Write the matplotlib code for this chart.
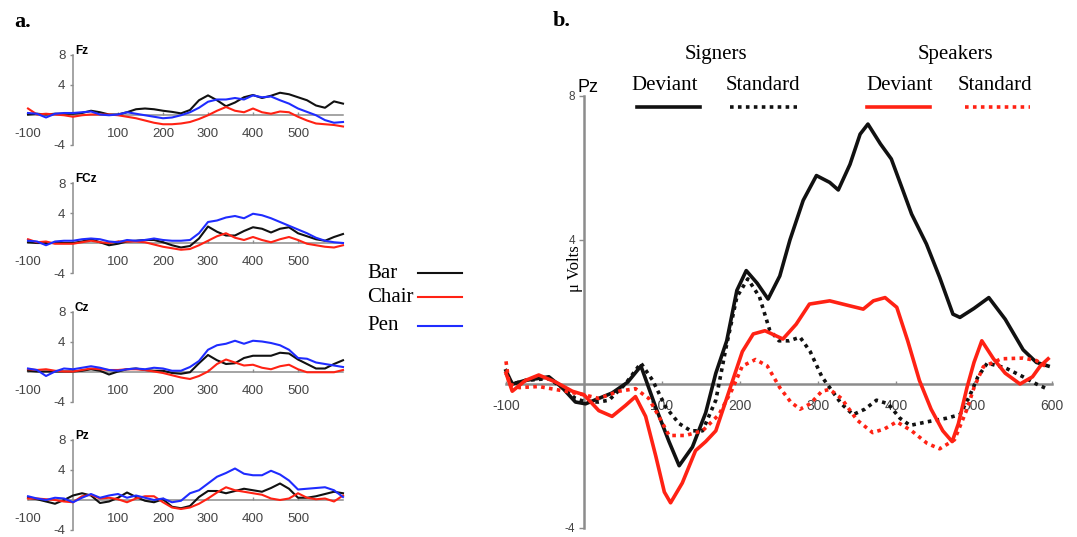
import matplotlib
matplotlib.use("Agg")
import matplotlib.pyplot as plt
from matplotlib.lines import Line2D

plt.rcParams["axes.unicode_minus"] = False

W, H = 1077, 537
SERIF = "Liberation Serif"
SANS = "Liberation Sans"
GRAY = "#8c8c8c"
BLACK = "#111111"
RED = "#ff2214"
BLUE = "#1f2cff"

# ---- panel a: Bar / Chair / Pen at four sites, sampled every 20 ms ----
t_a = [-100, -80, -60, -40, -20, 0, 20, 40, 60, 80, 100, 120, 140, 160, 180, 200, 220, 240,
       260, 280, 300, 320, 340, 360, 380, 400, 420, 440, 460, 480, 500, 520, 540, 560, 580, 600]

fz_bar = [0.0, 0.1, 0.0, 0.1, 0.1, 0.1, 0.2, 0.5, 0.3, 0.0, 0.0, 0.3, 0.7, 0.8, 0.7, 0.5, 0.35, 0.15,
          0.6, 1.9, 2.55, 1.9, 1.1, 1.6, 2.3, 2.6, 2.2, 2.5, 2.9, 2.7, 2.3, 1.9, 1.2, 0.9, 1.75, 1.45]
fz_chair = [0.8, 0.0, 0.1, 0.0, -0.1, -0.3, -0.1, 0.0, 0.0, 0.0, -0.1, -0.3, -0.5, -0.8, -1.1, -1.3, -1.3, -1.2,
            -1.0, -0.6, -0.1, 0.5, 1.0, 0.5, 0.3, 0.8, 0.3, 0.1, 0.4, 0.3, -0.3, -0.8, -1.2, -1.3, -1.4, -1.6]
fz_pen = [0.2, 0.1, -0.4, 0.1, 0.2, 0.2, 0.3, 0.4, 0.0, -0.1, 0.0, 0.3, 0.1, -0.1, -0.3, -0.5, -0.4, -0.1,
          0.3, 0.9, 1.7, 2.0, 2.0, 2.2, 2.0, 2.55, 2.3, 2.4, 1.9, 1.45, 0.8, 0.35, -0.1, -0.75, -1.1, -1.0]

fcz_bar = [0.1, 0.0, 0.0, 0.0, 0.0, 0.0, 0.2, 0.5, 0.1, -0.3, -0.1, 0.2, 0.3, 0.4, 0.4, 0.1, -0.3, -0.6,
           -0.4, 0.6, 2.2, 1.5, 1.0, 1.0, 1.6, 2.1, 1.9, 1.4, 1.9, 2.1, 1.3, 0.9, 0.5, 0.3, 0.8, 1.2]
fcz_chair = [0.5, 0.1, 0.2, -0.1, -0.1, -0.1, 0.1, 0.3, 0.1, 0.0, 0.2, 0.2, 0.2, 0.1, -0.2, -0.5, -0.7, -0.9,
             -0.8, -0.3, 0.3, 0.9, 1.3, 0.7, 0.4, 0.8, 0.4, 0.1, 0.5, 0.8, 0.4, -0.1, -0.3, -0.5, -0.6, -0.3]
fcz_pen = [0.3, 0.2, -0.3, 0.2, 0.3, 0.3, 0.5, 0.6, 0.5, 0.2, 0.1, 0.4, 0.3, 0.4, 0.6, 0.4, 0.3, 0.3,
           0.4, 1.3, 2.8, 3.0, 3.4, 3.6, 3.3, 3.9, 3.7, 3.3, 2.8, 2.3, 1.8, 1.3, 0.7, 0.3, 0.1, 0.0]

cz_bar = [0.1, 0.0, 0.0, 0.0, 0.0, 0.0, 0.1, 0.3, 0.1, -0.4, 0.0, 0.3, 0.4, 0.2, 0.1, 0.1, -0.2, -0.3,
          -0.1, 1.1, 2.2, 1.5, 1.0, 1.1, 1.8, 2.1, 2.1, 2.1, 2.5, 2.4, 1.6, 1.0, 0.4, 0.4, 1.0, 1.5]
cz_chair = [0.3, 0.2, 0.3, 0.1, 0.0, 0.0, 0.2, 0.4, 0.3, 0.2, 0.2, 0.3, 0.3, 0.2, 0.0, -0.2, -0.5, -0.8,
            -1.0, -0.6, 0.0, 1.0, 1.6, 1.2, 0.8, 0.9, 0.5, 0.3, 0.7, 0.9, 0.3, -0.1, -0.1, -0.1, -0.1, 0.2]
cz_pen = [0.4, 0.2, -0.6, 0.0, 0.4, 0.3, 0.5, 0.7, 0.5, 0.2, 0.1, 0.3, 0.4, 0.3, 0.5, 0.4, 0.1, 0.1,
          0.6, 1.4, 2.9, 3.5, 3.7, 4.1, 3.7, 4.1, 4.0, 3.8, 3.5, 2.9, 1.8, 1.7, 1.2, 1.0, 0.8, 0.6]

pz_bar = [0.3, 0.1, -0.2, -0.5, 0.0, 0.6, 0.9, 0.6, -0.4, -0.2, 0.3, 1.0, 0.4, -0.1, -0.3, 0.1, -0.9, -1.1,
          -0.8, 0.4, 1.2, 1.2, 0.9, 1.2, 1.5, 1.3, 1.1, 1.6, 2.2, 1.5, 0.3, 0.3, 0.5, 0.8, 1.1, 0.9]
pz_chair = [0.2, 0.2, 0.1, 0.0, -0.2, -0.3, 0.5, 0.7, 0.2, 0.3, 0.1, -0.3, 0.2, 0.5, 0.5, -0.3, -1.0, -1.2,
            -1.0, -0.5, 0.2, 1.0, 1.7, 1.3, 1.1, 0.9, 0.7, 0.2, 0.0, 0.2, 0.9, 0.3, 0.1, 0.2, -0.2, 0.6]
pz_pen = [0.5, 0.2, 0.0, 0.3, 0.2, -0.3, 0.3, 0.8, 0.3, 0.6, 0.8, 0.3, 0.6, 0.3, 0.0, 0.2, -0.3, -0.1,
          0.9, 1.3, 2.2, 3.1, 3.6, 4.2, 3.5, 3.3, 3.3, 3.9, 3.4, 2.6, 1.4, 1.5, 1.6, 1.7, 1.3, 0.4]

sites = ["Fz", "FCz", "Cz", "Pz"]
site_bar = [fz_bar, fcz_bar, cz_bar, pz_bar]
site_chair = [fz_chair, fcz_chair, cz_chair, pz_chair]
site_pen = [fz_pen, fcz_pen, cz_pen, pz_pen]
a_xticks = [-100, 100, 200, 300, 400, 500]

# ---- panel b: Pz, signers vs speakers ----
sig_dev_t = [-100, -92, -75, -45, -28, -11, 2, 19, 36, 56, 73, 92, 109, 122, 139, 156, 169, 183, 196, 208,
             222, 236, 251, 264, 281, 298, 315, 326, 341, 354, 364, 380, 394, 409, 420, 439, 456, 473, 482,
             500, 519, 540, 563, 580, 595]
sig_dev = [0.37, 0.0, 0.1, 0.2, -0.1, -0.5, -0.55, -0.4, -0.25, 0.05, 0.5, -0.65, -1.6, -2.27, -1.75, -0.8,
           0.3, 1.2, 2.6, 3.15, 2.8, 2.36, 3.0, 4.0, 5.1, 5.79, 5.6, 5.39, 6.1, 6.94, 7.22, 6.67, 6.25, 5.37,
           4.72, 3.89, 2.96, 1.94, 1.85, 2.1, 2.4, 1.8, 0.95, 0.6, 0.5]

sig_std_t = [-100, -92, -75, -45, -28, -11, 2, 19, 32, 53, 73, 88, 105, 122, 137, 152, 169, 182, 196, 210,
             225, 238, 250, 263, 277, 290, 305, 315, 330, 345, 360, 375, 390, 405, 418, 440, 465, 482, 495,
             505, 517, 540, 563, 580, 595]
sig_std = [0.3, 0.0, 0.1, 0.15, -0.1, -0.4, -0.5, -0.5, -0.45, 0.0, 0.58, 0.1, -0.65, -1.1, -1.3, -1.3,
           -0.45, 1.0, 2.42, 2.92, 2.42, 1.5, 1.2, 1.2, 1.3, 0.9, 0.2, -0.1, -0.55, -0.85, -0.7, -0.45, -0.55,
           -0.95, -1.15, -1.05, -0.95, -0.85, -0.3, 0.2, 0.58, 0.45, 0.2, 0.0, -0.15]

spk_dev_t = [-100, -92, -75, -58, -36, -15, 0, 19, 36, 53, 66, 79, 92, 103, 111, 126, 143, 156, 169, 186,
             203, 217, 232, 255, 272, 289, 315, 341, 358, 371, 386, 401, 415, 430, 445, 460, 472, 480, 491,
             500, 510, 525, 540, 559, 575, 585, 595]
spk_dev = [0.3, -0.2, 0.1, 0.25, 0.05, -0.2, -0.3, -0.74, -0.9, -0.6, -0.35, -0.9, -2.0, -3.0, -3.3, -2.75,
           -1.85, -1.6, -1.3, -0.2, 0.9, 1.39, 1.48, 1.25, 1.66, 2.22, 2.31, 2.17, 2.08, 2.31, 2.4, 2.13, 1.2,
           0.1, -0.7, -1.3, -1.6, -1.1, -0.1, 0.6, 1.2, 0.7, 0.3, 0.0, 0.2, 0.5, 0.7]

spk_std_t = [-100, -96, -83, -58, -24, 0, 19, 45, 66, 83, 96, 109, 130, 152, 173, 190, 203, 220, 235, 251,
             265, 277, 290, 305, 315, 330, 350, 370, 385, 401, 420, 440, 456, 475, 491, 500, 512, 535, 563,
             580, 595]
spk_std = [0.63, 0.0, -0.1, -0.07, -0.2, -0.3, -0.4, -0.2, -0.13, -0.4, -0.9, -1.43, -1.43, -1.3, -0.85,
           -0.15, 0.5, 0.68, 0.5, -0.1, -0.5, -0.7, -0.55, -0.2, -0.15, -0.4, -1.0, -1.35, -1.25, -1.05, -1.3,
           -1.65, -1.8, -1.55, -0.7, -0.1, 0.48, 0.7, 0.72, 0.65, 0.45]
b_xticks = [-100, 100, 200, 300, 400, 500, 600]
b_yticks = [-4, 4, 8]


def px_axes(fig, x0, x1, ytop, ybot):
    return fig.add_axes([x0 / W, 1 - ybot / H, (x1 - x0) / W, (ybot - ytop) / H])


def erp_axes(ax, lw, xticks, xsize, ysize, xpad, ylen, ypad):
    for s in ["top", "right"]:
        ax.spines[s].set_visible(False)
    ax.spines["left"].set_position(("data", 0))
    ax.spines["bottom"].set_position(("data", 0))
    ax.spines["left"].set_bounds(-4, 8)
    ax.spines["bottom"].set_bounds(-100, 600)
    for s in ["left", "bottom"]:
        ax.spines[s].set_color(GRAY)
        ax.spines[s].set_linewidth(lw)
    ax.set_xticks(xticks)
    ax.set_yticks(b_yticks)
    ax.tick_params(axis="x", direction="in", length=2.5, width=1, color=GRAY,
                   labelsize=xsize, labelcolor="#444444", pad=xpad)
    ax.tick_params(axis="y", direction="out", length=ylen, width=1, color=GRAY,
                   labelsize=ysize, labelcolor="#444444", pad=ypad)
    for lab in ax.get_xticklabels() + ax.get_yticklabels():
        lab.set_fontfamily(SANS)
    ax.patch.set_alpha(0)


fig = plt.figure(figsize=(W / 100, H / 100), dpi=100)

# panel a
zero_rows = [114.5, 243.0, 371.5, 500.0]
for i, site in enumerate(sites):
    y0 = zero_rows[i]
    ax = px_axes(fig, 73 - 110 * 0.45, 73 + 610 * 0.45, y0 - 8.8 * 7.5, y0 + 4.6 * 7.5)
    ax.set_xlim(-110, 610)
    ax.set_ylim(-4.6, 8.8)
    erp_axes(ax, 1.1, a_xticks, 9.5, 9.5, 9.5, 2.5, 3)
    ax.plot(t_a, site_bar[i], color=BLACK, lw=1.5, zorder=3, solid_joinstyle="round")
    ax.plot(t_a, site_chair[i], color=RED, lw=1.5, zorder=3, solid_joinstyle="round")
    ax.plot(t_a, site_pen[i], color=BLUE, lw=1.5, zorder=3, solid_joinstyle="round")
    ax.text(4, 8.5, site, fontsize=8.5, fontweight="bold", fontfamily=SANS,
            ha="left", va="center", clip_on=False)

fig.text(14 / W, 1 - 22 / H, "a.", fontsize=16, fontweight="bold", fontfamily=SERIF,
         ha="left", va="center")

legend_a = [("Bar", BLACK, 273), ("Chair", RED, 297), ("Pen", BLUE, 326)]
for name, col, yy in legend_a:
    fig.text(367 / W, 1 - yy / H, name, fontsize=15, fontfamily=SERIF, ha="left", va="center")
    fig.add_artist(Line2D([418 / W, 462 / W], [1 - yy / H, 1 - yy / H], color=col, lw=1.5))

# panel b
axb = px_axes(fig, 584 - 110 * 0.78, 584 + 610 * 0.78, 384 - 8.6 * 36, 384 + 4.2 * 36)
axb.set_xlim(-110, 610)
axb.set_ylim(-4.2, 8.6)
erp_axes(axb, 1.8, b_xticks, 10, 8.5, 11, 3.5, 3)
axb.plot(sig_dev_t, sig_dev, color=BLACK, lw=2.6, zorder=3, solid_joinstyle="round")
axb.plot(sig_std_t, sig_std, color=BLACK, lw=2.6, ls=(0, (1, 1.2)), zorder=3)
axb.plot(spk_dev_t, spk_dev, color=RED, lw=2.6, zorder=3, solid_joinstyle="round")
axb.plot(spk_std_t, spk_std, color=RED, lw=2.6, ls=(0, (1, 1.2)), zorder=3)
axb.text(-12, 3.2, "\u03bc Volts", rotation=90, fontsize=12, fontfamily=SERIF,
         ha="center", va="center")
axb.text(-8, 8.25, "Pz", fontsize=13, fontfamily=SANS, ha="left", va="center", clip_on=False)

fig.text(553 / W, 1 - 21 / H, "b.", fontsize=16, fontweight="bold", fontfamily=SERIF,
         ha="left", va="center")

fig.text(716 / W, 1 - 54 / H, "Signers", fontsize=15, fontfamily=SERIF, ha="center", va="center")
fig.text(955 / W, 1 - 54 / H, "Speakers", fontsize=15, fontfamily=SERIF, ha="center", va="center")
legend_b = [("Deviant", 665, 637, 700, BLACK, "-"),
            ("Standard", 763, 730, 797, BLACK, (0, (1, 1.2))),
            ("Deviant", 900, 867, 930, RED, "-"),
            ("Standard", 995, 965, 1030, RED, (0, (1, 1.2)))]
for name, xc, xa, xb, col, ls in legend_b:
    fig.text(xc / W, 1 - 86 / H, name, fontsize=15, fontfamily=SERIF, ha="center", va="center")
    fig.add_artist(Line2D([xa / W, xb / W], [1 - 107 / H, 1 - 107 / H], color=col, lw=2.6, ls=ls))

fig.savefig("out.png", dpi=100)
